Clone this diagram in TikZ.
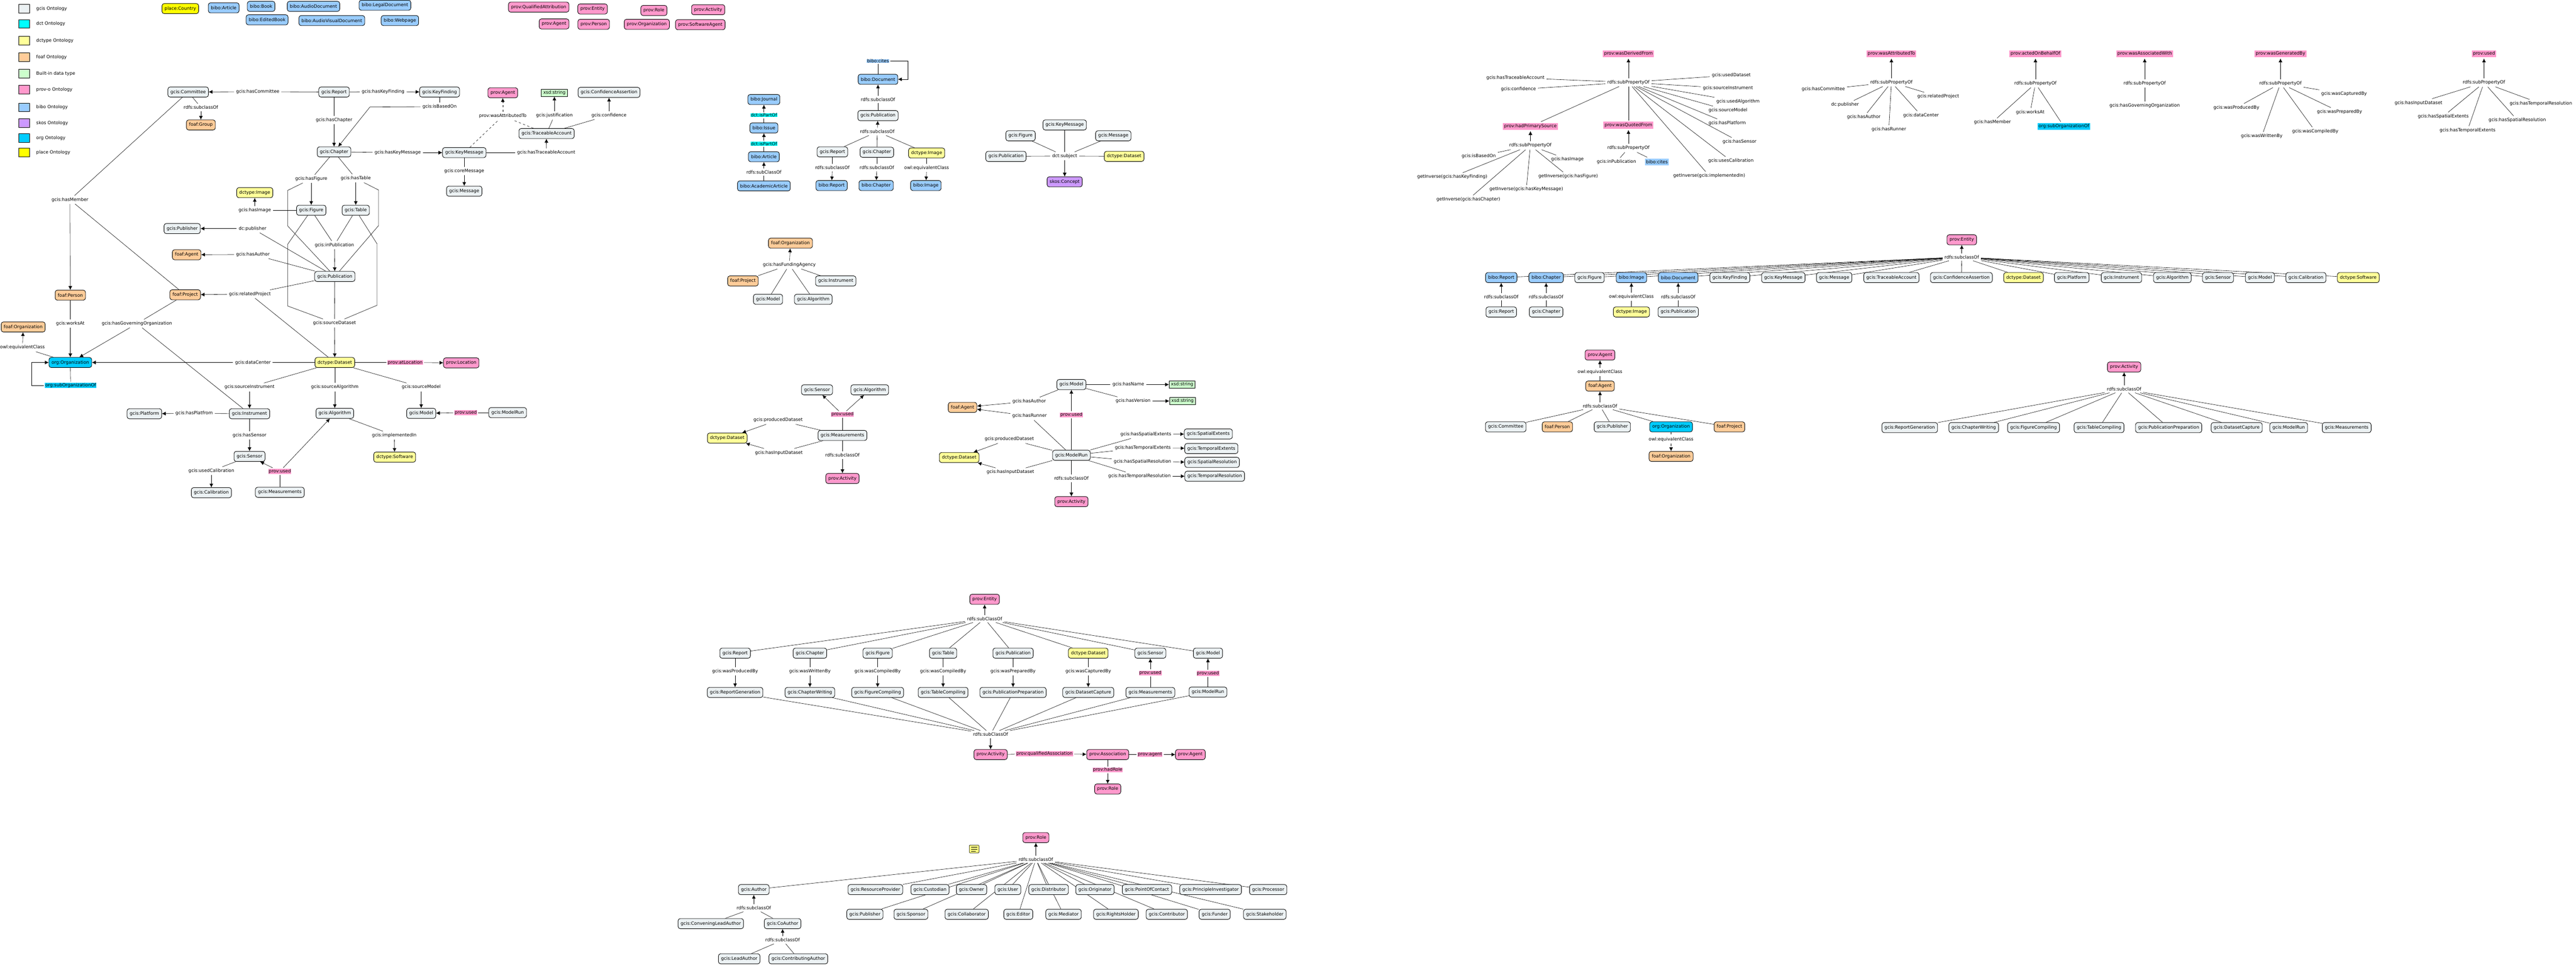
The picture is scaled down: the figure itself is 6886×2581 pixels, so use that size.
\documentclass[tikz,border=0pt]{standalone}
\usepackage{fontspec}
\setmainfont{DejaVu Sans}
\usetikzlibrary{arrows.meta,backgrounds}
\definecolor{gciscol}{RGB}{236,242,244}
\definecolor{dctcol}{RGB}{0,255,255}
\definecolor{dctypecol}{RGB}{255,255,153}
\definecolor{foafcol}{RGB}{255,204,153}
\definecolor{xsdcol}{RGB}{204,255,204}
\definecolor{provcol}{RGB}{255,153,204}
\definecolor{bibocol}{RGB}{153,204,255}
\definecolor{skoscol}{RGB}{204,153,255}
\definecolor{orgcol}{RGB}{0,204,255}
\definecolor{placecol}{RGB}{255,255,0}

\begin{document}
\begin{tikzpicture}[>={Latex[length=5pt,width=5pt]}, x=0.5pt, y=-0.5pt,
  every node/.style={font=\fontsize{6}{7}\selectfont},
  cbox/.style={draw, rounded corners=3pt, line width=0.6pt, inner xsep=3.5pt, inner ysep=0pt, minimum height=13.5pt},
  gcisbox/.style={cbox, fill=gciscol},
  dctypebox/.style={cbox, fill=dctypecol},
  foafbox/.style={cbox, fill=foafcol},
  provbox/.style={cbox, fill=provcol},
  bibobox/.style={cbox, fill=bibocol},
  skosbox/.style={cbox, fill=skoscol},
  orgbox/.style={cbox, fill=orgcol},
  placebox/.style={cbox, fill=placecol},
  xsdbox/.style={draw, line width=0.6pt, fill=xsdcol, inner xsep=2.5pt, inner ysep=0pt, minimum height=9.5pt},
  lab/.style={inner sep=2.5pt},
  hilab/.style={inner xsep=0.5pt, inner ysep=0.3pt, outer sep=1.5pt},
  hitop/.style={inner xsep=1.5pt, inner ysep=0pt, minimum height=9.5pt, outer sep=1.5pt},
  provtop/.style={hitop, fill=provcol},
  legbox/.style={draw, line width=0.6pt, minimum width=14.5pt, minimum height=11.5pt, inner sep=0pt}]

\useasboundingbox (0,0) rectangle (6886,2581);

\node[legbox, fill=gciscol] (lg1) at (65,23) {};
\node[anchor=west] (lt1) at (90,23) {gcis Ontology};
\node[legbox, fill=dctcol] (lg2) at (65,64) {};
\node[anchor=west] (lt2) at (90,64) {dct Ontology};
\node[legbox, fill=dctypecol] (lg3) at (65,109) {};
\node[anchor=west] (lt3) at (90,109) {dctype Ontology};
\node[legbox, fill=foafcol] (lg4) at (65,153) {};
\node[anchor=west] (lt4) at (90,153) {foaf Ontology};
\node[legbox, fill=xsdcol] (lg5) at (65,197) {};
\node[anchor=west] (lt5) at (90,197) {Built-in data type};
\node[legbox, fill=provcol] (lg6) at (65,240) {};
\node[anchor=west] (lt6) at (90,240) {prov-o Ontology};
\node[legbox, fill=bibocol] (lg7) at (65,287) {};
\node[anchor=west] (lt7) at (90,287) {bibo Ontology};
\node[legbox, fill=skoscol] (lg8) at (65,329) {};
\node[anchor=west] (lt8) at (90,329) {skos Ontology};
\node[legbox, fill=orgcol] (lg9) at (65,369) {};
\node[anchor=west] (lt9) at (90,369) {org Ontology};
\node[legbox, fill=placecol] (lg10) at (65,408) {};
\node[anchor=west] (lt10) at (90,408) {place Ontology};

\node[placebox] (country) at (482,23) {place:Country};
\node[bibobox] (barticle) at (598,21) {bibo:Article};
\node[bibobox] (bbook) at (698,17) {bibo:Book};
\node[bibobox] (baudio) at (838,17) {bibo:AudioDocument};
\node[bibobox] (blegal) at (1029,14) {bibo:LegalDocument};
\node[bibobox] (bedited) at (714,53) {bibo:EditedBook};
\node[bibobox] (bav) at (887,55) {bibo:AudioVisualDocument};
\node[bibobox] (bweb) at (1069,55) {bibo:Webpage};
\node[provbox] (pqa) at (1440,19) {prov:QualifiedAttribution};
\node[provbox] (pent0) at (1584,24) {prov:Entity};
\node[provbox] (prole0) at (1748,28) {prov:Role};
\node[provbox] (pact0) at (1893,26) {prov:Activity};
\node[provbox] (pag0) at (1481,64) {prov:Agent};
\node[provbox] (pper0) at (1587,65) {prov:Person};
\node[provbox] (porg0) at (1729,65) {prov:Organization};
\node[provbox] (psw0) at (1872,66) {prov:SoftwareAgent};

\node[gcisbox] (com) at (503,246) {gcis:Committee};
\node[gcisbox] (rep) at (893,246) {gcis:Report};
\node[gcisbox] (kf) at (1175,246) {gcis:KeyFinding};
\node[foafbox] (grp) at (537,334) {foaf:Group};
\node[gcisbox] (chap) at (893,406) {gcis:Chapter};
\node[gcisbox] (km) at (1241,408) {gcis:KeyMessage};
\node[gcisbox] (msg) at (1241,511) {gcis:Message};
\node[gcisbox] (ta) at (1461,357) {gcis:TraceableAccount};
\node[provbox] (pag) at (1344,248) {prov:Agent};
\node[xsdbox] (str) at (1482,248) {xsd:string};
\node[gcisbox] (ca) at (1628,247) {gcis:ConfidenceAssertion};
\node[dctypebox] (img) at (681,515) {dctype:Image};
\node[gcisbox] (fig) at (832,562) {gcis:Figure};
\node[gcisbox] (tab) at (951,562) {gcis:Table};
\node[gcisbox] (pub) at (487,611) {gcis:Publisher};
\node[foafbox] (fag) at (499,681) {foaf:Agent};
\node[gcisbox] (publ) at (895,739) {gcis:Publication};
\node[foafbox] (person) at (188,789) {foaf:Person};
\node[foafbox] (proj) at (495,788) {foaf:Project};
\node[foafbox] (forg) at (62,874) {foaf:Organization};
\node[orgbox] (org) at (188,969) {org:Organization};
\node[dctypebox] (ds) at (895,969) {dctype:Dataset};
\node[provbox] (loc) at (1233,970) {prov:Location};
\node[gcisbox] (plat) at (386,1106) {gcis:Platform};
\node[gcisbox] (inst) at (667,1106) {gcis:Instrument};
\node[gcisbox] (alg) at (895,1105) {gcis:Algorithm};
\node[gcisbox] (model) at (1126,1105) {gcis:Model};
\node[gcisbox] (mrun) at (1357,1103) {gcis:ModelRun};
\node[gcisbox] (sens) at (667,1220) {gcis:Sensor};
\node[dctypebox] (soft) at (1055,1222) {dctype:Software};
\node[gcisbox] (cal) at (565,1317) {gcis:Calibration};
\node[gcisbox] (meas) at (748,1316) {gcis:Measurements};

\node[lab] (hascom) at (689,245) {gcis:hasCommittee};
\node[lab] (haskf) at (1024,245) {gcis:hasKeyFinding};
\node[lab] (sccom) at (537,287) {rdfs:subclassOf};
\node[lab] (haschap) at (893,321) {gcis:hasChapter};
\node[lab] (based) at (1175,285) {gcis:isBasedOn};
\node[lab] (haskm) at (1063,408) {gcis:hasKeyMessage};
\node[lab] (hasta) at (1460,408) {gcis:hasTraceableAccount};
\node[lab] (attr) at (1344,310) {prov:wasAttributedTo};
\node[lab] (just) at (1482,309) {gcis:justification};
\node[lab] (conf) at (1628,308) {gcis:confidence};
\node[lab] (core) at (1241,457) {gcis:coreMessage};
\node[lab] (hasfig) at (832,478) {gcis:hasFigure};
\node[lab] (hastab) at (951,477) {gcis:hasTable};
\node[lab] (hasimg) at (681,562) {gcis:hasImage};
\node[lab] (dcpub) at (675,611) {dc:publisher};
\node[lab] (hasauth) at (676,680) {gcis:hasAuthor};
\node[lab] (inpub) at (894,655) {gcis:inPublication};
\node[lab] (relproj) at (668,786) {gcis:relatedProject};
\node[lab] (hasmem) at (187,534) {gcis:hasMember};
\node[lab] (works) at (188,865) {gcis:worksAt};
\node[lab] (govorg) at (366,865) {gcis:hasGoverningOrganization};
\node[lab] (eqorg) at (60,929) {owl:equivalentClass};
\node[lab, fill=orgcol, hilab] (suborg) at (189,1030) {org:subOrganizationOf};
\node[lab] (srcds) at (894,864) {gcis:sourceDataset};
\node[lab] (dcenter) at (676,969) {gcis:dataCenter};
\node[lab, fill=provcol, hilab] (atloc) at (1083,969) {prov:atLocation};
\node[lab] (srcinst) at (667,1035) {gcis:sourceInstrument};
\node[lab] (srcalg) at (895,1035) {gcis:sourceAlgorithm};
\node[lab] (srcmod) at (1126,1035) {gcis:sourceModel};
\node[lab] (hasplat) at (519,1105) {gcis:hasPlatfrom};
\node[lab, fill=provcol, hilab] (usedmod) at (1245,1103) {prov:used};
\node[lab] (hassens) at (667,1164) {gcis:hasSensor};
\node[lab] (impl) at (1054,1164) {gcis:implementedIn};
\node[lab] (usedcal) at (565,1259) {gcis:usedCalibration};
\node[lab, fill=provcol, hilab] (usedsens) at (748,1260) {prov:used};

\begin{scope}[on background layer, line width=0.5pt]
\draw (rep) -- (hascom); \draw[->] (hascom) -- (com);
\draw (rep) -- (haskf); \draw[->] (haskf) -- (kf);
\draw (com) -- (sccom); \draw[->] (sccom) -- (grp);
\draw (rep) -- (haschap); \draw[->] (haschap) -- (chap);
\draw (kf) -- (based); \draw[->] (based) -- (989,286) -- (chap);
\draw (chap) -- (haskm); \draw[->] (haskm) -- (km);
\draw (km) -- (hasta); \draw[->] (hasta) -- (ta);
\draw[dashed] (ta) -- (attr); \draw[dashed] (km) -- (attr); \draw[dashed,->] (attr) -- (pag);
\draw (ta) -- (just); \draw[->] (just) -- (str);
\draw (ta) -- (conf); \draw[->] (conf) -- (ca);
\draw (km) -- (core); \draw[->] (core) -- (msg);
\draw (chap) -- (hasfig); \draw[->] (hasfig) -- (fig);
\draw (chap) -- (hastab); \draw[->] (hastab) -- (tab);
\draw (publ) -- (769,604) -- (769,509) -- (hasfig);
\draw (publ) -- (1012,603) -- (1012,508) -- (hastab);
\draw (fig) -- (hasimg); \draw[->] (hasimg) -- (img);
\draw (publ) -- (dcpub); \draw[->] (dcpub) -- (pub);
\draw (publ) -- (hasauth); \draw[->] (hasauth) -- (fag);
\draw (fig) -- (inpub); \draw (tab) -- (inpub); \draw[->] (inpub) -- (publ);
\draw (publ) -- (relproj); \draw (ds) -- (relproj); \draw[->] (relproj) -- (proj);
\draw (com) -- (hasmem); \draw (proj) -- (hasmem); \draw[->] (hasmem) -- (person);
\draw (person) -- (works); \draw[->] (works) -- (org);
\draw (proj) -- (govorg); \draw (inst) -- (govorg); \draw[->] (govorg) -- (org);
\draw (org) -- (eqorg); \draw[->] (eqorg) -- (forg);
\draw (org) -- (suborg); \draw[->] (suborg) -- (84,1030) -- (84,969) -- (org);
\draw (publ) -- (srcds); \draw (fig) -- (769,653) -- (769,818) -- (srcds); \draw (tab) -- (1008,652) -- (1008,816) -- (srcds);
\draw[->] (srcds) -- (ds);
\draw (ds) -- (dcenter); \draw[->] (dcenter) -- (org);
\draw (ds) -- (atloc); \draw[->] (atloc) -- (loc);
\draw (ds) -- (srcinst); \draw[->] (srcinst) -- (inst);
\draw (ds) -- (srcalg); \draw[->] (srcalg) -- (alg);
\draw (ds) -- (srcmod); \draw[->] (srcmod) -- (model);
\draw (inst) -- (hasplat); \draw[->] (hasplat) -- (plat);
\draw (mrun) -- (usedmod); \draw[->] (usedmod) -- (model);
\draw (inst) -- (hassens); \draw[->] (hassens) -- (sens);
\draw (alg) -- (impl); \draw[->] (impl) -- (soft);
\draw (sens) -- (usedcal); \draw[->] (usedcal) -- (cal);
\draw (meas) -- (usedsens); \draw[->] (usedsens) -- (sens); \draw[->] (usedsens) -- (alg);
\end{scope}

\node[bibobox] (bdoc) at (2347,212) {bibo:Document};
\node[lab, fill=bibocol, hilab] (cites) at (2347,163) {bibo:cites};
\node[lab] (scdoc) at (2347,266) {rdfs:subclassOf};
\node[gcisbox] (publ2) at (2347,309) {gcis:Publication};
\node[lab] (scpub) at (2345,352) {rdfs:subclassOf};
\node[gcisbox] (rep2) at (2225,406) {gcis:Report};
\node[gcisbox] (chap2) at (2344,407) {gcis:Chapter};
\node[dctypebox] (img2) at (2477,409) {dctype:Image};
\node[lab] (screp) at (2225,448) {rdfs:subclassOf};
\node[lab] (scchap) at (2344,448) {rdfs:subclassOf};
\node[lab] (eqimg) at (2477,449) {owl:equivalentClass};
\node[bibobox] (brep) at (2223,496) {bibo:Report};
\node[bibobox] (bchap) at (2342,496) {bibo:Chapter};
\node[bibobox] (bimg) at (2475,496) {bibo:Image};
\node[bibobox] (bjour) at (2042,266) {bibo:Journal};
\node[lab, fill=dctcol, hilab] (part1) at (2042,308) {dct:isPartOf};
\node[bibobox] (bissue) at (2042,342) {bibo:Issue};
\node[lab, fill=dctcol, hilab] (part2) at (2042,384) {dct:isPartOf};
\node[bibobox] (bart) at (2042,419) {bibo:Article};
\node[lab] (scart) at (2042,460) {rdfs:subClassOf};
\node[bibobox] (bacad) at (2042,497) {bibo:AcademicArticle};

\node[gcisbox] (km2) at (2846,334) {gcis:KeyMessage};
\node[gcisbox] (fig2) at (2728,363) {gcis:Figure};
\node[gcisbox] (msg2) at (2976,363) {gcis:Message};
\node[gcisbox] (publ3) at (2689,418) {gcis:Publication};
\node[lab] (subj) at (2846,417) {dct:subject};
\node[dctypebox] (ds2) at (3005,418) {dctype:Dataset};
\node[skosbox] (concept) at (2846,486) {skos:Concept};

\node[foafbox] (forg2) at (2113,650) {foaf:Organization};
\node[lab] (fund) at (2110,708) {gcis:hasFundingAgency};
\node[foafbox] (proj2) at (1986,751) {foaf:Project};
\node[gcisbox] (inst2) at (2234,751) {gcis:Instrument};
\node[gcisbox] (model2) at (2053,800) {gcis:Model};
\node[gcisbox] (alg2) at (2174,800) {gcis:Algorithm};

\begin{scope}[on background layer, line width=0.5pt]
\draw (bdoc) -- (cites); \draw[->] (cites) -- (2427,163) -- (2427,212) -- (bdoc);
\draw (publ2) -- (scdoc); \draw[->] (scdoc) -- (bdoc);
\draw (rep2) -- (scpub); \draw (chap2) -- (scpub); \draw (img2) -- (scpub); \draw[->] (scpub) -- (publ2);
\draw (rep2) -- (screp); \draw[->] (screp) -- (brep);
\draw (chap2) -- (scchap); \draw[->] (scchap) -- (bchap);
\draw (img2) -- (eqimg); \draw[->] (eqimg) -- (bimg);
\draw (bissue) -- (part1); \draw[->] (part1) -- (bjour);
\draw (bart) -- (part2); \draw[->] (part2) -- (bissue);
\draw (bacad) -- (scart); \draw[->] (scart) -- (bart);
\draw (km2) -- (subj); \draw (fig2) -- (subj); \draw (msg2) -- (subj); \draw (publ3) -- (subj); \draw (ds2) -- (subj);
\draw[->] (subj) -- (concept);
\draw (proj2) -- (fund); \draw (inst2) -- (fund); \draw (model2) -- (fund); \draw (alg2) -- (fund);
\draw[->] (fund) -- (forg2);
\end{scope}

\node[gcisbox] (sens2) at (2184,1042) {gcis:Sensor};
\node[gcisbox] (alg3) at (2325,1042) {gcis:Algorithm};
\node[lab, fill=provcol, hilab] (used2) at (2252,1108) {prov:used};
\node[lab] (prod1) at (2080,1123) {gcis:producedDataset};
\node[dctypebox] (ds3) at (1944,1171) {dctype:Dataset};
\node[gcisbox] (meas2) at (2252,1164) {gcis:Measurements};
\node[lab] (inp1) at (2082,1210) {gcis:hasInputDataset};
\node[lab] (scmeas) at (2252,1217) {rdfs:subclassOf};
\node[provbox] (act1) at (2252,1279) {prov:Activity};

\node[gcisbox] (model3) at (2864,1028) {gcis:Model};
\node[lab] (hname) at (3016,1028) {gcis:hasName};
\node[xsdbox] (str2) at (3160,1028) {xsd:string};
\node[lab] (hver) at (3029,1072) {gcis:hasVersion};
\node[xsdbox] (str3) at (3161,1072) {xsd:string};
\node[lab] (hauth2) at (2751,1073) {gcis:hasAuthor};
\node[foafbox] (fag2) at (2573,1089) {foaf:Agent};
\node[lab] (hrun) at (2752,1112) {gcis:hasRunner};
\node[lab, fill=provcol, hilab] (used3) at (2864,1109) {prov:used};
\node[lab] (prod2) at (2698,1174) {gcis:producedDataset};
\node[dctypebox] (ds4) at (2564,1223) {dctype:Dataset};
\node[gcisbox] (mrun2) at (2864,1217) {gcis:ModelRun};
\node[lab] (inp2) at (2701,1262) {gcis:hasInputDataset};
\node[lab] (scmrun) at (2864,1279) {rdfs:subclassOf};
\node[provbox] (act2) at (2864,1341) {prov:Activity};
\node[lab] (hse) at (3063,1161) {gcis:hasSpatialExtents};
\node[gcisbox] (se) at (3230,1160) {gcis:SpatialExtents};
\node[lab] (hte) at (3055,1197) {gcis:hasTemporalExtents};
\node[gcisbox] (te) at (3238,1199) {gcis:TemporalExtents};
\node[lab] (hsr) at (3054,1234) {gcis:hasSpatialResolution};
\node[gcisbox] (sr) at (3240,1236) {gcis:SpatialResolution};
\node[lab] (htr) at (3046,1273) {gcis:hasTemporalResolution};
\node[gcisbox] (tr) at (3247,1273) {gcis:TemporalResolution};

\begin{scope}[on background layer, line width=0.5pt]
\draw (meas2) -- (used2); \draw[->] (used2) -- (sens2); \draw[->] (used2) -- (alg3);
\draw (meas2) -- (prod1); \draw[->] (prod1) -- (ds3);
\draw (meas2) -- (inp1); \draw[->] (inp1) -- (ds3);
\draw (meas2) -- (scmeas); \draw[->] (scmeas) -- (act1);
\draw (model3) -- (hname); \draw[->] (hname) -- (str2);
\draw (model3) -- (hver); \draw[->] (hver) -- (str3);
\draw (model3) -- (hauth2); \draw[->] (hauth2) -- (fag2);
\draw (mrun2) -- (hrun); \draw[->] (hrun) -- (fag2);
\draw (mrun2) -- (used3); \draw[->] (used3) -- (model3);
\draw (mrun2) -- (prod2); \draw[->] (prod2) -- (ds4);
\draw (mrun2) -- (inp2); \draw[->] (inp2) -- (ds4);
\draw (mrun2) -- (scmrun); \draw[->] (scmrun) -- (act2);
\draw (mrun2) -- (hse); \draw[->] (hse) -- (se);
\draw (mrun2) -- (hte); \draw[->] (hte) -- (te);
\draw (mrun2) -- (hsr); \draw[->] (hsr) -- (sr);
\draw (mrun2) -- (htr); \draw[->] (htr) -- (tr);
\end{scope}

\node[provtop] (wdf) at (4353,144) {prov:wasDerivedFrom};
\node[lab] (spwdf) at (4353,220) {rdfs:subPropertyOf};
\node[lab] (w1) at (4051,208) {gcis:hasTraceableAccount};
\node[lab] (w2) at (4059,239) {gcis:confidence};
\node[lab] (w3) at (4628,201) {gcis:usedDataset};
\node[lab] (w4) at (4619,236) {gcis:sourceInstrument};
\node[lab] (w5) at (4646,271) {gcis:usedAlgorithm};
\node[lab] (w6) at (4619,295) {gcis:sourceModel};
\node[lab] (w7) at (4617,329) {gcis:hasPlatform};
\node[lab] (w8) at (4650,379) {gcis:hasSensor};
\node[lab] (w9) at (4627,430) {gcis:usesCalibration};
\node[lab] (w10) at (4569,470) {getInverse(gcis:implementedIn)};
\node[provtop] (hps) at (4091,338) {prov:hadPrimarySource};
\node[provtop] (wqf) at (4353,335) {prov:wasQuotedFrom};
\node[lab] (sphps) at (4091,389) {rdfs:subPropertyOf};
\node[lab] (h1) at (3953,418) {gcis:isBasedOn};
\node[lab] (h2) at (4190,426) {gcis:hasImage};
\node[lab] (h3) at (3882,473) {getInverse(gcis:hasKeyFinding)};
\node[lab] (h4) at (4192,471) {getInverse(gcis:hasFigure)};
\node[lab] (h5) at (4080,506) {getInverse(gcis:hasKeyMessage)};
\node[lab] (h6) at (3925,533) {getInverse(gcis:hasChapter)};
\node[lab] (spwqf) at (4353,396) {rdfs:subPropertyOf};
\node[lab] (q1) at (4321,433) {gcis:inPublication};
\node[hitop, fill=bibocol] (q2) at (4429,433) {bibo:cites};

\node[provtop] (wat) at (5056,144) {prov:wasAttributedTo};
\node[lab] (spwat) at (5056,220) {rdfs:subPropertyOf};
\node[lab] (t1) at (4874,239) {gcis:hasCommittee};
\node[lab] (t2) at (4932,280) {dc:publisher};
\node[lab] (t3) at (4982,313) {gcis:hasAuthor};
\node[lab] (t4) at (5049,346) {gcis:hasRunner};
\node[lab] (t5) at (5135,308) {gcis:dataCenter};
\node[lab] (t6) at (5181,258) {gcis:relatedProject};

\node[provtop] (aob) at (5441,144) {prov:actedOnBehalfOf};
\node[lab] (spaob) at (5441,223) {rdfs:subPropertyOf};
\node[lab] (b1) at (5326,327) {gcis:hasMember};
\node[lab] (b2) at (5427,300) {gcis:worksAt};
\node[hitop, fill=orgcol] (b3) at (5517,338) {org:subOrganizationOf};

\node[provtop] (waw) at (5733,144) {prov:wasAssociatedWith};
\node[lab] (spwaw) at (5733,223) {rdfs:subPropertyOf};
\node[lab] (g1) at (5733,282) {gcis:hasGoverningOrganization};

\node[provtop] (wgb) at (6096,144) {prov:wasGeneratedBy};
\node[lab] (spwgb) at (6096,223) {rdfs:subPropertyOf};
\node[lab] (k1) at (6266,251) {gcis:wasCapturedBy};
\node[lab] (k2) at (5978,288) {gcis:wasProducedBy};
\node[lab] (k3) at (6254,299) {gcis:wasPreparedBy};
\node[lab] (k4) at (6189,351) {gcis:wasCompiledBy};
\node[lab] (k5) at (6046,364) {gcis:wasWrittenBy};

\node[provtop] (pused) at (6640,144) {prov:used};
\node[lab] (spused) at (6640,221) {rdfs:subPropertyOf};
\node[lab] (u1) at (6465,275) {gcis:hasInputDataset};
\node[lab] (u2) at (6792,277) {gcis:hasTemporalResolution};
\node[lab] (u3) at (6531,311) {gcis:hasSpatialExtents};
\node[lab] (u4) at (6729,321) {gcis:hasSpatialResolution};
\node[lab] (u5) at (6596,348) {gcis:hasTemporalExtents};

\begin{scope}[on background layer, line width=0.5pt]
\draw (w1) -- (spwdf); \draw (w2) -- (spwdf); \draw (w3) -- (spwdf); \draw (w4) -- (spwdf); \draw (w5) -- (spwdf);
\draw (w6) -- (spwdf); \draw (w7) -- (spwdf); \draw (w8) -- (spwdf); \draw (w9) -- (spwdf); \draw (w10) -- (spwdf);
\draw (hps) -- (spwdf); \draw (wqf) -- (spwdf); \draw[->] (spwdf) -- (wdf);
\draw (h1) -- (sphps); \draw (h2) -- (sphps); \draw (h3) -- (sphps); \draw (h4) -- (sphps); \draw (h5) -- (sphps); \draw (h6) -- (sphps);
\draw[->] (sphps) -- (hps);
\draw (q1) -- (spwqf); \draw (q2) -- (spwqf); \draw[->] (spwqf) -- (wqf);
\draw (t1) -- (spwat); \draw (t2) -- (spwat); \draw (t3) -- (spwat); \draw (t4) -- (spwat); \draw (t5) -- (spwat); \draw (t6) -- (spwat);
\draw[->] (spwat) -- (wat);
\draw (b1) -- (spaob); \draw (b2) -- (spaob); \draw (b3) -- (spaob); \draw[->] (spaob) -- (aob);
\draw (g1) -- (spwaw); \draw[->] (spwaw) -- (waw);
\draw (k1) -- (spwgb); \draw (k2) -- (spwgb); \draw (k3) -- (spwgb); \draw (k4) -- (spwgb); \draw (k5) -- (spwgb);
\draw[->] (spwgb) -- (wgb);
\draw (u1) -- (spused); \draw (u2) -- (spused); \draw (u3) -- (spused); \draw (u4) -- (spused); \draw (u5) -- (spused);
\draw[->] (spused) -- (pused);
\end{scope}

\node[provbox] (pent) at (5244,641) {prov:Entity};
\node[lab] (scent) at (5244,687) {rdfs:subclassOf};
\node[bibobox] (e1) at (4013,742) {bibo:Report};
\node[bibobox] (e2) at (4133,742) {bibo:Chapter};
\node[gcisbox] (e3) at (4249,742) {gcis:Figure};
\node[bibobox] (e4) at (4361,742) {bibo:Image};
\node[bibobox] (e5) at (4486,742) {bibo:Document};
\node[gcisbox] (e6) at (4624,742) {gcis:KeyFinding};
\node[gcisbox] (e7) at (4767,742) {gcis:KeyMessage};
\node[gcisbox] (e8) at (4903,742) {gcis:Message};
\node[gcisbox] (e9) at (5056,742) {gcis:TraceableAccount};
\node[gcisbox] (e10) at (5243,742) {gcis:ConfidenceAssertion};
\node[dctypebox] (e11) at (5409,742) {dctype:Dataset};
\node[gcisbox] (e12) at (5538,742) {gcis:Platform};
\node[gcisbox] (e13) at (5671,742) {gcis:Instrument};
\node[gcisbox] (e14) at (5807,742) {gcis:Algorithm};
\node[gcisbox] (e15) at (5929,742) {gcis:Sensor};
\node[gcisbox] (e16) at (6041,742) {gcis:Model};
\node[gcisbox] (e17) at (6164,742) {gcis:Calibration};
\node[dctypebox] (e18) at (6304,742) {dctype:Software};
\node[lab] (esc1) at (4013,793) {rdfs:subclassOf};
\node[gcisbox] (erep) at (4013,834) {gcis:Report};
\node[lab] (esc2) at (4133,793) {rdfs:subclassOf};
\node[gcisbox] (echap) at (4133,834) {gcis:Chapter};
\node[lab] (esc3) at (4361,793) {owl:equivalentClass};
\node[dctypebox] (eimg) at (4361,834) {dctype:Image};
\node[lab] (esc4) at (4486,793) {rdfs:subclassOf};
\node[gcisbox] (epub) at (4486,834) {gcis:Publication};

\node[provbox] (pag2) at (4277,949) {prov:Agent};
\node[lab] (eqag) at (4277,994) {owl:equivalentClass};
\node[foafbox] (fag3) at (4277,1032) {foaf:Agent};
\node[lab] (scag) at (4277,1085) {rdfs:subclassOf};
\node[gcisbox] (com2) at (4025,1141) {gcis:Committee};
\node[foafbox] (person2) at (4163,1141) {foaf:Person};
\node[gcisbox] (pub2) at (4310,1141) {gcis:Publisher};
\node[orgbox] (org2) at (4467,1141) {org:Organization};
\node[foafbox] (proj3) at (4623,1141) {foaf:Project};
\node[lab] (eqorg2) at (4467,1175) {owl:equivalentClass};
\node[foafbox] (forg3) at (4467,1220) {foaf:Organization};

\node[provbox] (pact) at (5678,981) {prov:Activity};
\node[lab] (scact) at (5678,1040) {rdfs:subclassOf};
\node[gcisbox] (a1) at (5105,1143) {gcis:ReportGeneration};
\node[gcisbox] (a2) at (5276,1143) {gcis:ChapterWriting};
\node[gcisbox] (a3) at (5436,1143) {gcis:FigureCompiling};
\node[gcisbox] (a4) at (5611,1143) {gcis:TableCompiling};
\node[gcisbox] (a5) at (5797,1143) {gcis:PublicationPreparation};
\node[gcisbox] (a6) at (5979,1143) {gcis:DatasetCapture};
\node[gcisbox] (a7) at (6118,1143) {gcis:ModelRun};
\node[gcisbox] (a8) at (6273,1143) {gcis:Measurements};

\begin{scope}[on background layer, line width=0.5pt]
\draw (e1) -- (scent); \draw (e2) -- (scent); \draw (e3) -- (scent); \draw (e4) -- (scent); \draw (e5) -- (scent); \draw (e6) -- (scent);
\draw (e7) -- (scent); \draw (e8) -- (scent); \draw (e9) -- (scent); \draw (e10) -- (scent); \draw (e11) -- (scent); \draw (e12) -- (scent);
\draw (e13) -- (scent); \draw (e14) -- (scent); \draw (e15) -- (scent); \draw (e16) -- (scent); \draw (e17) -- (scent); \draw (e18) -- (scent);
\draw[->] (scent) -- (pent);
\draw (erep) -- (esc1); \draw[->] (esc1) -- (e1);
\draw (echap) -- (esc2); \draw[->] (esc2) -- (e2);
\draw (eimg) -- (esc3); \draw[->] (esc3) -- (e4);
\draw (epub) -- (esc4); \draw[->] (esc4) -- (e5);
\draw (fag3) -- (eqag); \draw[->] (eqag) -- (pag2);
\draw (com2) -- (scag); \draw (person2) -- (scag); \draw (pub2) -- (scag); \draw (org2) -- (scag); \draw (proj3) -- (scag);
\draw[->] (scag) -- (fag3);
\draw[dashed] (org2) -- (eqorg2); \draw[dashed,->] (eqorg2) -- (forg3);
\draw (a1) -- (scact); \draw (a2) -- (scact); \draw (a3) -- (scact); \draw (a4) -- (scact);
\draw (a5) -- (scact); \draw (a6) -- (scact); \draw (a7) -- (scact); \draw (a8) -- (scact);
\draw[->] (scact) -- (pact);
\end{scope}

\node[provbox] (pent2) at (2632,1602) {prov:Entity};
\node[lab] (scent2) at (2632,1654) {rdfs:subClassOf};
\node[gcisbox] (r1) at (1965,1746) {gcis:Report};
\node[gcisbox] (r2) at (2165,1746) {gcis:Chapter};
\node[gcisbox] (r3) at (2346,1746) {gcis:Figure};
\node[gcisbox] (r4) at (2521,1746) {gcis:Table};
\node[gcisbox] (r5) at (2708,1746) {gcis:Publication};
\node[dctypebox] (r6) at (2909,1746) {dctype:Dataset};
\node[gcisbox] (r7) at (3075,1746) {gcis:Sensor};
\node[gcisbox] (r8) at (3229,1746) {gcis:Model};
\node[lab] (v1) at (1965,1794) {gcis:wasProducedBy};
\node[lab] (v2) at (2165,1794) {gcis:wasWrittenBy};
\node[lab] (v3) at (2346,1794) {gcis:wasCompiledBy};
\node[lab] (v4) at (2521,1794) {gcis:wasCompiledBy};
\node[lab] (v5) at (2708,1794) {gcis:wasPreparedBy};
\node[lab] (v6) at (2909,1794) {gcis:wasCapturedBy};
\node[lab, fill=provcol, hilab] (v7) at (3075,1799) {prov:used};
\node[lab, fill=provcol, hilab] (v8) at (3229,1800) {prov:used};
\node[gcisbox] (s1) at (1965,1851) {gcis:ReportGeneration};
\node[gcisbox] (s2) at (2165,1851) {gcis:ChapterWriting};
\node[gcisbox] (s3) at (2346,1851) {gcis:FigureCompiling};
\node[gcisbox] (s4) at (2521,1851) {gcis:TableCompiling};
\node[gcisbox] (s5) at (2708,1851) {gcis:PublicationPreparation};
\node[gcisbox] (s6) at (2909,1851) {gcis:DatasetCapture};
\node[gcisbox] (s7) at (3075,1851) {gcis:Measurements};
\node[gcisbox] (s8) at (3229,1850) {gcis:ModelRun};
\node[lab] (scact2) at (2648,1963) {rdfs:subClassOf};
\node[provbox] (pact2) at (2648,2017) {prov:Activity};
\node[lab, fill=provcol, hilab] (qassoc) at (2792,2015) {prov:qualifiedAssociation};
\node[provbox] (assoc) at (2961,2017) {prov:Association};
\node[lab, fill=provcol, hilab] (agl) at (3074,2017) {prov:agent};
\node[provbox] (pag3) at (3182,2017) {prov:Agent};
\node[lab, fill=provcol, hilab] (hrole) at (2961,2058) {prov:hadRole};
\node[provbox] (prole) at (2961,2109) {prov:Role};

\begin{scope}[on background layer, line width=0.5pt]
\draw (r1) -- (scent2); \draw (r2) -- (scent2); \draw (r3) -- (scent2); \draw (r4) -- (scent2);
\draw (r5) -- (scent2); \draw (r6) -- (scent2); \draw (r7) -- (scent2); \draw (r8) -- (scent2);
\draw[->] (scent2) -- (pent2);
\draw (r1) -- (v1); \draw[->] (v1) -- (s1);
\draw (r2) -- (v2); \draw[->] (v2) -- (s2);
\draw (r3) -- (v3); \draw[->] (v3) -- (s3);
\draw (r4) -- (v4); \draw[->] (v4) -- (s4);
\draw (r5) -- (v5); \draw[->] (v5) -- (s5);
\draw (r6) -- (v6); \draw[->] (v6) -- (s6);
\draw (s7) -- (v7); \draw[->] (v7) -- (r7);
\draw (s8) -- (v8); \draw[->] (v8) -- (r8);
\draw (s1) -- (scact2); \draw (s2) -- (scact2); \draw (s3) -- (scact2); \draw (s4) -- (scact2);
\draw (s5) -- (scact2); \draw (s6) -- (scact2); \draw (s7) -- (scact2); \draw (s8) -- (scact2);
\draw[->] (scact2) -- (pact2);
\draw (pact2) -- (qassoc); \draw[->] (qassoc) -- (assoc);
\draw (assoc) -- (agl); \draw[->] (agl) -- (pag3);
\draw (assoc) -- (hrole); \draw[->] (hrole) -- (prole);
\end{scope}

\node[provbox] (prole2) at (2769,2239) {prov:Role};
\node[lab] (scrole) at (2769,2297) {rdfs:subclassOf};
\node[gcisbox] (o1) at (2015,2378) {gcis:Author};
\node[gcisbox] (o2) at (2340,2378) {gcis:ResourceProvider};
\node[gcisbox] (o3) at (2486,2378) {gcis:Custodian};
\node[gcisbox] (o4) at (2597,2378) {gcis:Owner};
\node[gcisbox] (o5) at (2694,2378) {gcis:User};
\node[gcisbox] (o6) at (2803,2378) {gcis:Distributor};
\node[gcisbox] (o7) at (2927,2378) {gcis:Originator};
\node[gcisbox] (o8) at (3066,2378) {gcis:PointOfContact};
\node[gcisbox] (o9) at (3236,2378) {gcis:PrincipleInvestigator};
\node[gcisbox] (o10) at (3390,2378) {gcis:Processor};
\node[gcisbox] (p1) at (2312,2444) {gcis:Publisher};
\node[gcisbox] (p2) at (2435,2444) {gcis:Sponsor};
\node[gcisbox] (p3) at (2584,2444) {gcis:Collaborator};
\node[gcisbox] (p4) at (2722,2444) {gcis:Editor};
\node[gcisbox] (p5) at (2843,2444) {gcis:Mediator};
\node[gcisbox] (p6) at (2983,2444) {gcis:RightsHolder};
\node[gcisbox] (p7) at (3119,2444) {gcis:Contributor};
\node[gcisbox] (p8) at (3247,2444) {gcis:Funder};
\node[gcisbox] (p9) at (3381,2444) {gcis:Stakeholder};
\node[lab] (scauth) at (2015,2427) {rdfs:subclassOf};
\node[gcisbox] (clead) at (1900,2469) {gcis:ConveningLeadAuthor};
\node[gcisbox] (coauth) at (2092,2469) {gcis:CoAuthor};
\node[lab] (sccoauth) at (2092,2513) {rdfs:subclassOf};
\node[gcisbox] (lead) at (1976,2563) {gcis:LeadAuthor};
\node[gcisbox] (contr) at (2134,2563) {gcis:ContributingAuthor};
\draw[fill=placecol!50, rounded corners=1pt, line width=0.4pt] (2591,2259) rectangle (2617,2280);
\draw[line width=0.4pt] (2596,2265) -- (2612,2265) (2596,2270) -- (2612,2270) (2596,2275) -- (2608,2275);

\begin{scope}[on background layer, line width=0.5pt]
\draw (o1) -- (scrole); \draw (o2) -- (scrole); \draw (o3) -- (scrole); \draw (o4) -- (scrole); \draw (o5) -- (scrole);
\draw (o6) -- (scrole); \draw (o7) -- (scrole); \draw (o8) -- (scrole); \draw (o9) -- (scrole); \draw (o10) -- (scrole);
\draw (p1) -- (scrole); \draw (p2) -- (scrole); \draw (p3) -- (scrole); \draw (p4) -- (scrole); \draw (p5) -- (scrole);
\draw (p6) -- (scrole); \draw (p7) -- (scrole); \draw (p8) -- (scrole); \draw (p9) -- (scrole);
\draw[->] (scrole) -- (prole2);
\draw (clead) -- (scauth); \draw (coauth) -- (scauth); \draw[->] (scauth) -- (o1);
\draw (lead) -- (sccoauth); \draw (contr) -- (sccoauth); \draw[->] (sccoauth) -- (coauth);
\end{scope}

\end{tikzpicture}
\end{document}
